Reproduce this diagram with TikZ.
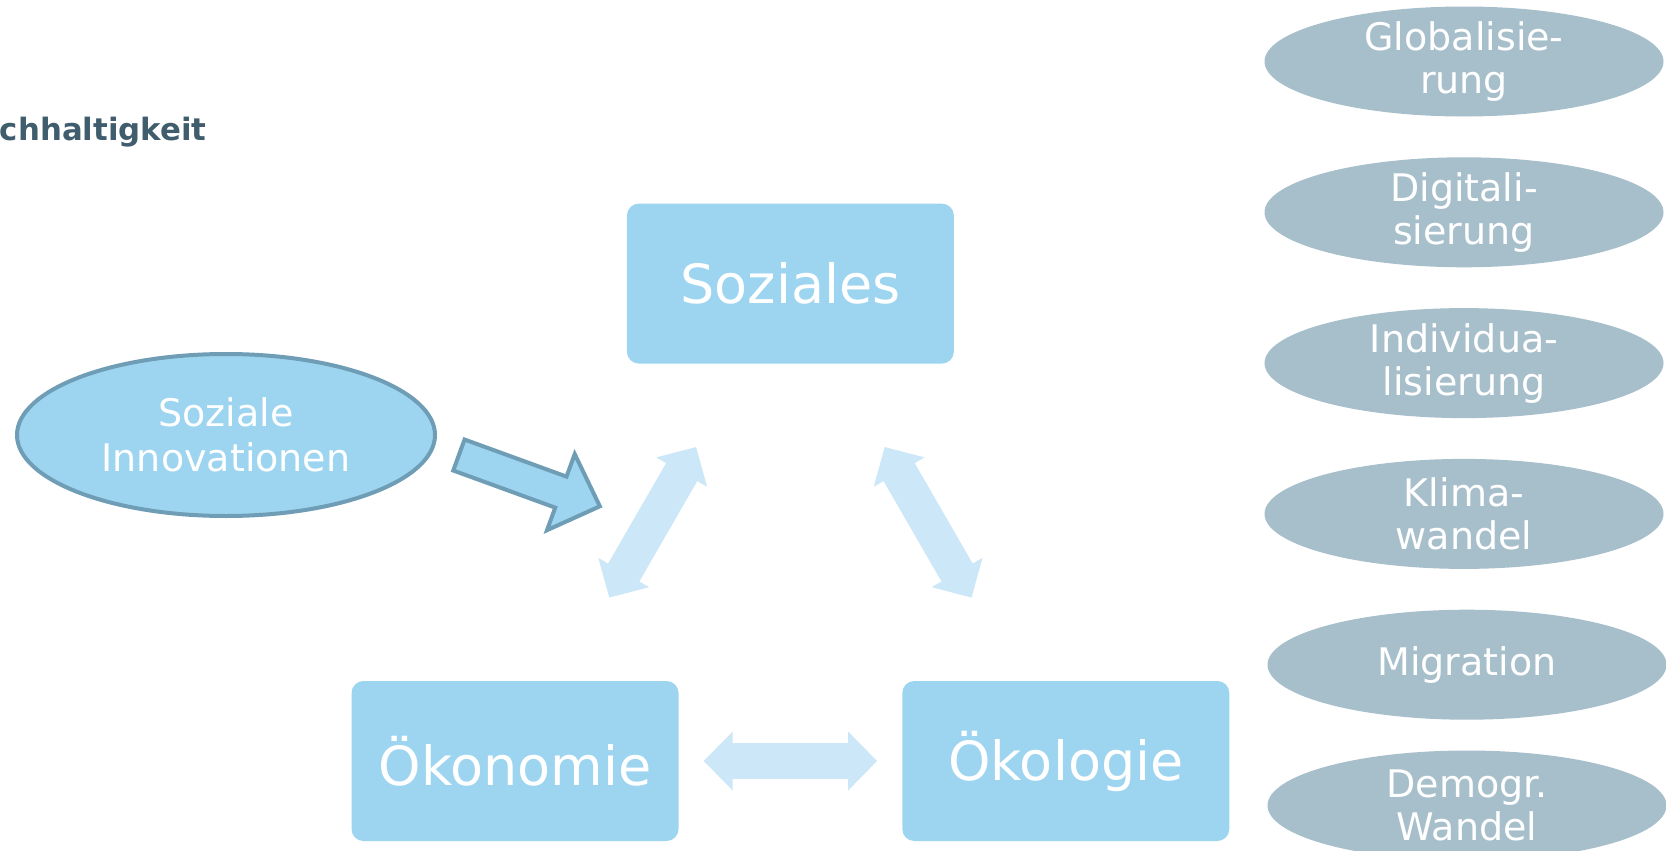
\documentclass[tikz,border=0pt]{standalone}
\usepackage{fontspec}
\setmainfont{DejaVu Sans}
\usepackage{tikz}
\usetikzlibrary{arrows.meta,positioning,shapes.geometric,calc}

\definecolor{boxblue}{HTML}{9DD5F0}
\definecolor{palearrow}{HTML}{CCE7F7}
\definecolor{rimblue}{HTML}{6E9DB5}
\definecolor{trendgrey}{HTML}{A7BFCB}
\definecolor{titleslate}{HTML}{3F5D6D}

\begin{document}
\begin{tikzpicture}
[x=0.5pt, y=-0.5pt, node distance=20pt,
block/.style =
{fill=boxblue, rounded corners=6pt, text=white, minimum width=163.5pt, minimum height=80pt, inner sep=0pt, font=\fontsize{27}{32}\selectfont},
trend/.style =
{fill=trendgrey, shape=ellipse, text=white, align=center, minimum width=199.5pt, minimum height=55pt, inner xsep=0pt, inner ysep=-1.2pt, font=\fontsize{19}{21.5}\selectfont},
link/.style =
{draw=palearrow, line width=18pt, arrows={Triangle[length=14.5pt,width=28.5pt]-Triangle[length=14.5pt,width=28.5pt]}, shorten <=94.3pt, shorten >=94.3pt}]
\useasboundingbox (0,0) rectangle (1666,851);

\node[anchor=base east, inner sep=0pt, text=titleslate, font=\bfseries\fontsize{15.4}{18}\selectfont] (title) at (207,140) {chhaltigkeit};

% the three pillars
\node [block] (oekon) at (515,761) {Ökonomie};
\node [block, right=111.5pt of oekon] (oekol) {Ökologie};
\coordinate (M) at ($(oekon)!0.5!(oekol)$);
\node [block, above=198.5pt of M] (soz) {Soziales};

\draw[link] (soz.center) -- (oekon.center);
\draw[link] (soz.center) -- (oekol.center);
\draw[link] (oekon.center) -- (oekol.center);

% innovations
\node [shape=ellipse, draw=rimblue, line width=2pt, fill=boxblue, text=white, align=center, minimum width=209pt, minimum height=81pt, inner sep=0pt, font=\fontsize{19}{22.5}\selectfont] (innov) at (226,435) {Soziale\\Innovationen};

\begin{scope}[shift={(457.5,454.5)}, rotate=-20]
\draw[draw=rimblue, fill=boxblue, line width=2pt]
(1.5,-16.5) -- (110,-16.5) -- (110,-40.5) -- (151.5,0) -- (110,40.5) -- (110,16.5) -- (1.5,16.5) -- cycle;
\end{scope}

% trends
\node[trend] (glob) at (1464,61.5) {Globalisie-\\rung};
\node[trend, below=of glob] (digi) {Digitali-\\sierung};
\node[trend, below=of digi] (indi) {Individua-\\lisierung};
\node[trend, below=of indi] (klima) {Klima-\\wandel};
\node[trend, below=of klima, xshift=1.5pt] (migr) {Migration};
\node[trend, below=15pt of migr] (demo) {Demogr.\\Wandel};

\end{tikzpicture}
\end{document}
